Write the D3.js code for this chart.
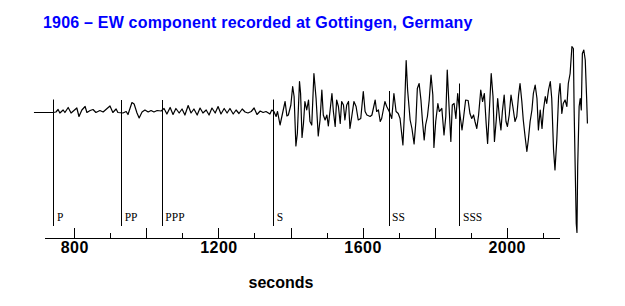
<!DOCTYPE html>
<html>
<head>
<meta charset="utf-8">
<script src="https://cdn.jsdelivr.net/npm/d3@7"></script>
<style>
  body { margin: 0; background: #fff; }
  svg { display: block; }
</style>
</head>
<body>
<div id="chart"></div>
<script>
// turning points of the trace: seconds, amplitude (arbitrary units)
const traceTime = [
  688, 741, 749, 755, 760, 769, 774, 783, 791, 799, 807, 813, 821, 830, 835, 844, 852, 860, 871, 880,
  891, 899, 907, 916, 921, 935, 944, 949, 960, 966, 974, 980, 988, 996, 1005, 1013, 1021, 1030, 1041,
  1049, 1057, 1066, 1074, 1082, 1091, 1099, 1107, 1116, 1124, 1132, 1141, 1149, 1157, 1166, 1174, 1182,
  1191, 1199, 1207, 1216, 1224, 1232, 1241, 1249, 1257, 1266, 1274, 1282, 1291, 1299, 1307, 1316, 1324,
  1332, 1343, 1348, 1354, 1360, 1364, 1371, 1379, 1385, 1390, 1394, 1401, 1406, 1410, 1415, 1419, 1425,
  1428, 1432, 1436, 1440, 1445, 1450, 1454, 1459, 1465, 1471, 1477, 1482, 1487, 1491, 1496, 1501, 1505,
  1510, 1515, 1519, 1524, 1528, 1533, 1538, 1542, 1547, 1551, 1556, 1561, 1565, 1570, 1576, 1582, 1588,
  1595, 1602, 1607, 1612, 1621, 1626, 1635, 1639, 1644, 1649, 1653, 1662, 1667, 1674, 1681, 1687, 1693,
  1699, 1704, 1712, 1716, 1721, 1725, 1732, 1737, 1743, 1748, 1752, 1757, 1762, 1766, 1771, 1775, 1780,
  1785, 1790, 1795, 1798, 1803, 1809, 1813, 1820, 1826, 1831, 1835, 1840, 1845, 1849, 1854, 1859, 1864,
  1871, 1876, 1880, 1886, 1893, 1898, 1903, 1908, 1912, 1917, 1922, 1928, 1933, 1938, 1943, 1947, 1951,
  1957, 1962, 1966, 1971, 1975, 1980, 1984, 1988, 1993, 1998, 2002, 2007, 2012, 2017, 2023, 2028, 2033,
  2037, 2042, 2046, 2051, 2056, 2060, 2065, 2070, 2074, 2079, 2084, 2088, 2093, 2098, 2102, 2107, 2111,
  2116, 2121, 2125, 2130, 2134, 2139, 2144, 2148, 2153, 2157, 2162, 2167, 2171, 2176, 2181, 2185, 2187,
  2190, 2193, 2195, 2197, 2201, 2204, 2207, 2210, 2214, 2218, 2222, 2224
];
const traceAmp = [
  0, 0, 0.5, 3, -0.5, 2.5, 0, 5, -0.5, 2, 4.5, -4, 2.5, 6, 0, 2, 3, 0, 2, 0.5,
  4, 6.5, 0, 3.5, 0, -0.5, 1, -2, 10, 8.5, -0.5, -5.5, 0.5, 2.5, 0.5, 2, 0.5, 2, 1.5,
  4, -1.5, 5, -2, 4, -0.5, 3.5, -2.5, 7, -0.5, 3.5, -2.5, 4.5, -0.5, 2.5, -2.5, 4.5,
  -0.5, 6, -1.5, 4, -0.5, 4, -1.5, 2.5, -1, 3.5, 0.5, -0.5, 1, 4.5, -2, 1.5, 0,
  1, -1.5, 2.5, 1, -4, 1, -12.5, 1, 11, -3.5, -2.5, 7.5, 26, 16, -33.5, -21, 31,
  19, -25, -11, 11, 2.5, 12.5, -9, -12.5, 39, 14, -23.5, -7.5, 22.5, -2.5, -7.5, -2.5, -13.5,
  2.5, 19, 1, -14, 12.5, 6, -11, 11, 7.5, -7.5, 7.5, 11, -16, -4, 11, 6, -7.5,
  -6, 21, 1, -2.5, -4, -2.5, 12.5, 1, 2.5, -9, -6, 11, 6, 1, -6, 19, 1,
  -1, -6, -32.5, -2.5, 52, 22.5, -7.5, -16, -31.5, -9, 24, 29, 12.5, -7.5, -27.5, -12.5, -4,
  12.5, 37.5, 17.5, -35, -9, 9, 1, 4, -22.5, -4, 42.5, 6, -29, 7.5, 9, -6, 19,
  -4, -17.5, -6, 12.5, 12, -1, -6, -2.5, -9, -16, -2.5, 22.5, 11, 19, -11, -31, -4,
  39, 16, -29, -7.5, 14, -6, -17.5, 1, 17.5, -9, -14, -2.5, 17.5, 6, -9, -4, 17.5,
  29, 11, -7.5, -24, -39, -27.5, -9, 2.5, 19, 27.5, 14, -17.5, 2.5, -16, 2.5, 16, 9,
  22.5, 31, 14, -37.5, -57.5, -27.5, 16, 29, -1, 9, 12.5, 6, 29, 39, 66, 64, 6,
  -54, -111, -120, -54, 6, 14, 2.5, 59, 62.5, 52.5, 12.5, -11
];

// phase picks: name, arrival time (s), top of the marker (amplitude units)
const phaseNames = ['P', 'PP', 'PPP', 'S', 'SS', 'SSS'];
const phaseTimes = [742, 930, 1043, 1352, 1672, 1869];
const phaseTops  = [13, 12.5, 12.5, 13, 21.5, 29];
const phaseBottom = -113.5;

const axisStart = 716, axisEnd = 2146;
const majorTicks = [800, 1000, 1200, 1400, 1600, 1800, 2000];
const minorTicks = [900, 1100, 1300, 1500, 1700, 1900, 2100];
const labelTicks = [800, 1200, 1600, 2000];

const titleText = '1906 \u2013 EW component recorded at Gottingen, Germany';
const xTitle = 'seconds';

const cfg = { width: 625, height: 306, axisY: 237 };

const svg = d3.select('#chart')
  .append('svg')
  .attr('width', cfg.width)
  .attr('height', cfg.height)
  .attr('viewBox', [0, 0, cfg.width, cfg.height]);

const x = d3.scaleLinear().domain([800, 2000]).range([74.3, 506.7]);
const y = d3.scaleLinear().domain([0, 60]).range([112.5, 52.5]);

// title
svg.append('text')
  .attr('x', 43)
  .attr('y', 28)
  .style('font-family', '"Liberation Sans", Arial, sans-serif')
  .style('font-weight', 'bold')
  .style('font-size', '16px')
  .style('letter-spacing', '0.2px')
  .style('fill', '#0000ff')
  .text(titleText);

// phase markers
const phases = phaseNames.map((n, i) => ({ name: n, t: phaseTimes[i], top: phaseTops[i] }));

const marks = svg.append('g').attr('class', 'phases');
marks.selectAll('line')
  .data(phases)
  .join('line')
  .attr('x1', d => Math.round(x(d.t)) + 0.5)
  .attr('x2', d => Math.round(x(d.t)) + 0.5)
  .attr('y1', d => y(d.top))
  .attr('y2', y(phaseBottom))
  .style('stroke', '#000')
  .style('stroke-width', 1);

marks.selectAll('text')
  .data(phases)
  .join('text')
  .attr('x', d => x(d.t) + 3.5)
  .attr('y', y(phaseBottom) - 5)
  .style('font-family', '"Liberation Serif", "Times New Roman", serif')
  .style('font-size', '11.5px')
  .style('fill', '#000')
  .text(d => d.name);

// trace
const line = d3.line()
  .x((d, i) => x(traceTime[i]))
  .y(d => y(d))
  .curve(d3.curveLinear);

svg.append('path')
  .datum(traceAmp)
  .attr('d', line)
  .style('fill', 'none')
  .style('stroke', '#000')
  .style('stroke-width', 1.2)
  .style('stroke-linejoin', 'round');

// axis
const xAxisScale = x.copy().domain([axisStart, axisEnd]).range([x(axisStart), x(axisEnd)]);

const axisG = svg.append('g')
  .attr('class', 'xAxis')
  .attr('transform', `translate(0, ${cfg.axisY + 0.5})`);

axisG.append('g')
  .call(d3.axisBottom(xAxisScale)
    .tickValues(majorTicks)
    .tickSize(-10)
    .tickSizeOuter(0)
    .tickPadding(4)
    .tickFormat(d => labelTicks.includes(d) ? d : ''));

axisG.append('g')
  .call(d3.axisBottom(xAxisScale)
    .tickValues(minorTicks)
    .tickSize(-5)
    .tickSizeOuter(0)
    .tickFormat(''))
  .call(g => g.select('.domain').remove());

axisG.selectAll('path, line')
  .style('stroke', '#000')
  .style('stroke-width', 1)
  .style('shape-rendering', 'crispEdges');

axisG.selectAll('text')
  .style('font-family', '"Liberation Sans", Arial, sans-serif')
  .style('font-weight', 'bold')
  .style('font-size', '16px')
  .style('letter-spacing', '0.5px')
  .style('fill', '#000');

svg.append('text')
  .attr('x', 281)
  .attr('y', 288)
  .attr('text-anchor', 'middle')
  .style('font-family', '"Liberation Sans", Arial, sans-serif')
  .style('font-weight', 'bold')
  .style('font-size', '16px')
  .style('fill', '#000')
  .text(xTitle);
</script>
</body>
</html>
